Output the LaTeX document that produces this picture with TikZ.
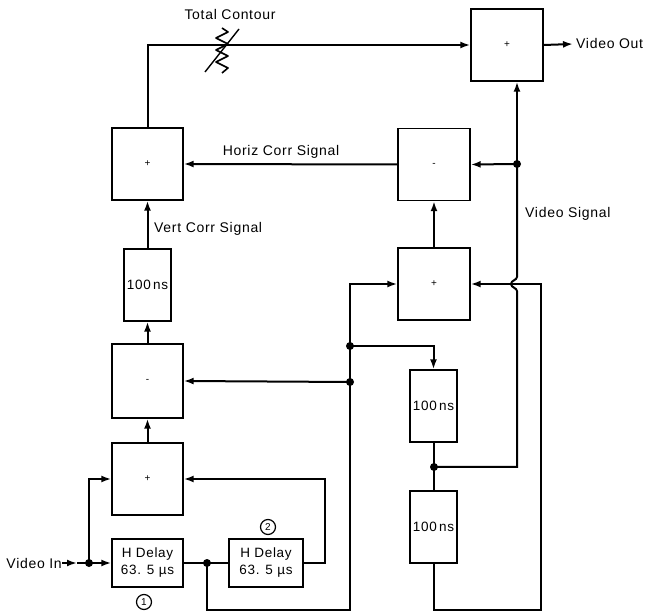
\documentclass[tikz,border=0pt]{standalone}
\usepackage{fontspec}
\setmainfont{Liberation Sans}[LetterSpace=5]
\usetikzlibrary{arrows.meta,calc}
\begin{document}
\begin{tikzpicture}[x=1pt,y=-1pt,
 box/.style={draw,line width=1.4pt,minimum width=71pt,minimum height=72pt,inner sep=0pt,font=\fontsize{10}{11}\selectfont},
 dbox/.style={draw,line width=1.4pt,minimum width=47pt,minimum height=72pt,inner sep=0pt,font=\fontsize{13.5}{15}\selectfont},
 hbox/.style={draw,line width=1.4pt,minimum width=71pt,minimum height=48pt,inner sep=0pt,align=center,font=\fontsize{13.5}{17}\selectfont},
 wire/.style={line width=2pt},
 arr/.style={wire,-{Latex[length=10pt,width=7pt]}},
 dot/.style={circle,fill,inner sep=0pt,minimum size=8pt},
 lbl/.style={font=\fontsize{14}{16}\selectfont,inner sep=0pt},
 num/.style={circle,draw,line width=1.2pt,inner sep=0pt,minimum size=15pt,font=\fontsize{10}{11}\selectfont}
]
\useasboundingbox (0,0) rectangle (654,612);

% blocks
\node[box,minimum width=72pt] (sumT) at (507,45) {+};
\node[box] (sumL) at (147.5,164) {+};
\node[box,minimum width=72pt] (subR) at (434,164.5) {-};
\node[box,minimum width=72pt] (addR) at (434,284) {+};
\node[dbox] (dL) at (147.5,285) {100\,ns};
\node[box,minimum height=74pt] (subL) at (147.5,381) {-};
\node[box] (addL) at (147.5,479) {+};
\node[hbox] (hd1) at (147.5,563) {H Delay\\63. 5 µs};
\node[hbox,minimum width=74pt] (hd2) at (266,563) {H Delay\\63. 5 µs};
\node[dbox] (dR1) at (433.5,406) {100\,ns};
\node[dbox] (dR2) at (433.5,527) {100\,ns};

% labels
\node[lbl] (tc) at (230,15) {Total Contour};
\node[lbl] (hcs) at (281,152) {Horiz Corr Signal};
\node[lbl,anchor=west] (vcs) at (154,229) {Vert Corr Signal};
\node[lbl,anchor=west] (vs) at (525,214) {Video Signal};
\node[lbl,anchor=east] (vin) at (62,563) {Video In};
\node[lbl,anchor=west] (vout) at (576,44) {Video Out};
\node[num] (n1) at (144,602) {1};
\node[num] (n2) at (268,527) {2};

% junctions and bends
\coordinate (vinA) at (77,563);
\coordinate (pIn) at (89,563);
\coordinate (pMid) at (207,563);
\coordinate (rtA) at (325,479);
\coordinate (botA) at (350,610);
\coordinate (pA) at (350,346);
\coordinate (pB) at (350,382);
\coordinate (pC) at (434,467);
\coordinate (pD) at (517,164);
\coordinate (pE) at (517,467);
\coordinate (botB) at (541,610);
\coordinate (voutA) at (573,44);

% connectors
\draw[arr] (vin.east) -- (vinA);
\draw[arr] (vinA) -- (hd1.west);
\draw[arr] (pIn) |- (addL.west);
\draw[wire] (hd1.east) -- (hd2.west);
\draw[arr] (hd2.east) -| (rtA) -- (addL.east);
\draw[arr] (pMid) |- (botA) |- (addR.west);
\draw[arr] (pB) -- (subL.east);
\draw[arr] (pA) -| (dR1.north);
\draw[wire] (dR1.south) -- (dR2.north);
\draw[wire] (pC) -- (pE) -- (517,291) .. controls (517,288) and (511,287.5) .. (511,284)
  .. controls (511,280.5) and (517,280) .. (517,277) -- (pD);
\draw[arr] (pD) -- (pD |- sumT.south);
\draw[arr] (pD) -- (subR.east);
\draw[arr] (dR2.south) |- (botB) |- (addR.east);
\draw[arr] (addL.north) -- (subL.south);
\draw[arr] (subL.north) -- (dL.south);
\draw[arr] (dL.north) -- (sumL.south);
\draw[arr] (subR.west) -- (sumL.east);
\draw[arr] (addR.north) -- (subR.south);
\draw[arr] (sumL.north) |- (sumT.west);
\draw[arr] (sumT.east) -- (voutA);

% variable resistor (Total Contour)
\draw[line width=1.6pt,line join=round] (222,28) -- (228,32) -- (216,38) -- (228,44) -- (216,50) -- (228,56) -- (216,62) -- (228,68) -- (222,73);
\draw[line width=1.4pt] (205,72) -- (239,29);

% dots
\foreach \p in {pIn,pMid,pA,pB,pC,pD} \node[dot] at (\p) {};
\end{tikzpicture}
\end{document}
